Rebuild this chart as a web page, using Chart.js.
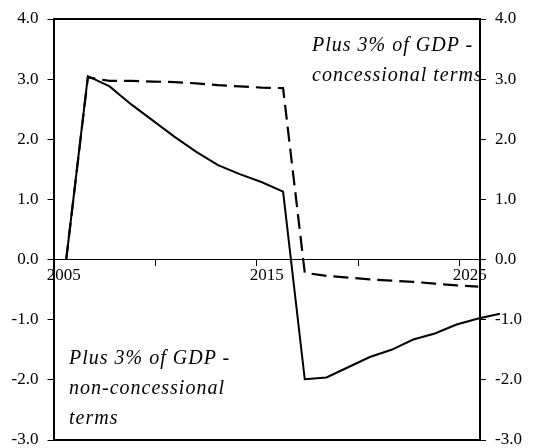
<!DOCTYPE html>
<html>
<head>
<meta charset="utf-8">
<script src="https://cdn.jsdelivr.net/npm/chart.js@4.4.1/dist/chart.umd.min.js"></script>
<style>
  html, body { margin: 0; padding: 0; background: #fff; }
  #contenedor { position: relative; width: 553px; height: 448px; }
  .nota {
    position: absolute;
    font: italic 20px "Liberation Serif", "Times New Roman", serif;
    letter-spacing: 1px;
    line-height: 30px;
    color: #000;
    white-space: nowrap;
  }
</style>
</head>
<body>
<div id="contenedor">
  <canvas id="grafico" width="553" height="448"></canvas>
  <div class="nota" style="left:312px; top:29px;">Plus 3% of GDP -<br>concessional terms</div>
  <div class="nota" style="left:69px; top:342px;">Plus 3% of GDP -<br>non-concessional<br>terms</div>
</div>
<script>
// datos
const anios = [2005, 2006, 2007, 2008, 2009, 2010, 2011, 2012, 2013, 2014, 2015,
               2016, 2017, 2018, 2019, 2020, 2021, 2022, 2023, 2024, 2025];
const noConcesional = [0.0, 3.05, 2.88, 2.58, 2.31, 2.04, 1.79, 1.57, 1.42, 1.29, 1.13,
                       -1.99, -1.96, -1.79, -1.62, -1.50, -1.33, -1.23, -1.08, -0.98, -0.90];
const concesional = [0.0, 3.03, 2.97, 2.97, 2.96, 2.95, 2.93, 2.90, 2.88, 2.86, 2.85,
                     -0.22, -0.27, -0.30, -0.33, -0.35, -0.37, -0.40, -0.43, -0.45, null];
const marcasX = [2004.5, 2009.5, 2014.5, 2019.5, 2024.5, 2025.5];
const etiquetasX = [2005, 2015, 2025];
const marcasY = [-3, -2, -1, 0, 1, 2, 3, 4];

const fuente = { family: '"Liberation Serif", "Times New Roman", serif', size: 17 };

const puntos = serie => anios.map((a, i) => ({ x: a, y: serie[i] }));

// sin relleno extra de etiquetas para que el área quede donde queremos
const sinRelleno = s => { s.paddingTop = 0; s.paddingBottom = 0; s.paddingLeft = 0; s.paddingRight = 0; };

const ejeY = (lado, ancho) => ({
  position: lado,
  min: -3,
  max: 4,
  afterBuildTicks: s => { s.ticks = marcasY.map(v => ({ value: v })); },
  ticks: { callback: v => v.toFixed(1), font: fuente, color: '#000', padding: 9 },
  grid: { drawOnChartArea: false, tickLength: 6, color: '#000', lineWidth: 1 },
  border: { color: '#000', width: 2 },
  afterFit: s => { s.width = ancho; sinRelleno(s); }
});

const ejeBorde = lado => ({
  type: 'linear',
  position: lado,
  min: 0,
  max: 1,
  ticks: { display: false },
  grid: { display: false, drawTicks: false },
  border: { color: '#000', width: 2 },
  afterFit: s => { s.height = 0; sinRelleno(s); }
});

const ctx = document.getElementById('grafico').getContext('2d');
new Chart(ctx, {
  type: 'line',
  data: {
    datasets: [{
      label: 'Plus 3% of GDP - non-concessional terms',
      data: puntos(noConcesional),
      borderColor: '#000',
      borderWidth: 2,
      pointRadius: 0,
      tension: 0,
      clip: false
    }, {
      label: 'Plus 3% of GDP - concessional terms',
      data: puntos(concesional),
      borderColor: '#000',
      borderWidth: 2.2,
      borderDash: [15, 7],
      pointRadius: 0,
      tension: 0,
      spanGaps: false,
      clip: false
    }]
  },
  options: {
    responsive: false,
    animation: false,
    layout: { padding: { top: 19, bottom: 8, left: 0, right: 0 } },
    plugins: { legend: { display: false }, tooltip: { enabled: false } },
    scales: {
      x: { type: 'linear', display: false, min: 2004.414, max: 2024.08 },
      xMarcas: {
        type: 'linear', axis: 'x', position: { y: 0 },
        min: 2004.5, max: 2025.5,
        afterBuildTicks: s => { s.ticks = marcasX.map(v => ({ value: v })); },
        ticks: { display: false },
        grid: { drawOnChartArea: false, tickLength: 6, color: '#000', lineWidth: 1 },
        border: { color: '#000', width: 1 },
        afterFit: sinRelleno
      },
      xEtiquetas: {
        type: 'linear', axis: 'x', position: { y: 0 },
        min: 2004.5, max: 2025.5,
        afterBuildTicks: s => { s.ticks = etiquetasX.map(v => ({ value: v })); },
        ticks: { callback: v => String(v), font: fuente, color: '#000', padding: 6, maxRotation: 0, autoSkip: false },
        grid: { display: false, drawTicks: false },
        border: { display: false },
        afterFit: sinRelleno
      },
      xArriba: ejeBorde('top'),
      xAbajo: ejeBorde('bottom'),
      y: ejeY('left', 53.5),
      y2: ejeY('right', 73)
    }
  }
});
</script>
</body>
</html>
